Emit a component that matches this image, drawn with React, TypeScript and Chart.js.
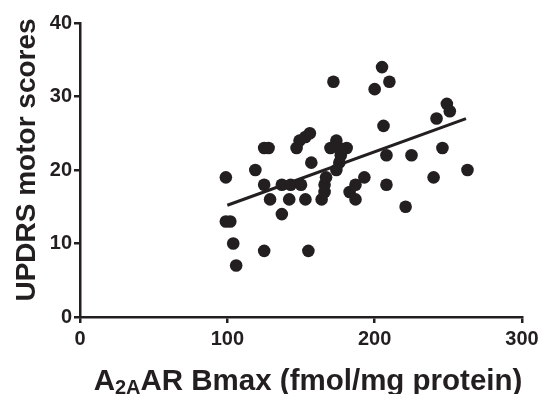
import { useEffect, useRef } from "react";
import { Chart, registerables } from "chart.js";

Chart.register(...registerables);

// A2AAR Bmax (fmol/mg protein)
const bmax = [
  99, 99, 102, 104, 106, 119, 125, 128, 125, 125, 129, 137, 137, 143, 142,
  147, 149, 153, 156, 150, 153, 155, 157, 164, 166, 166, 167, 170, 174, 181,
  176, 177, 176, 174, 172, 183, 187, 193, 187, 200, 205, 210, 206, 208, 208,
  221, 225, 240, 242, 246, 249, 251, 263,
];
// UPDRS motor scores
const updrs = [
  19, 13, 13, 10, 7, 20, 23, 23, 18, 9, 16, 14, 18, 18, 16,
  23, 24, 24.5, 25, 18, 16, 9, 21, 16, 17, 18, 19, 23, 24, 23,
  23, 22, 21, 20, 32, 17, 18, 19, 16, 31, 34, 32, 26, 22, 18,
  15, 22, 19, 27, 23, 29, 28, 20,
];
// regression line end points
const fitBmax = [100, 262];
const fitUpdrs = [15.2, 27];

const xTicks = [0, 100, 200, 300];
const yTicks = [0, 10, 20, 30, 40];

const xTitleA = "A";
const xTitleSub = "2A";
const xTitleRest = "AR Bmax (fmol/mg protein)";
const yTitle = "UPDRS motor scores";

const INK = "#231f20";
const FAMILY = "'Liberation Sans', Arial, Helvetica, sans-serif";

const titlePlugin = {
  id: "customTitles",
  afterDraw(chart: any) {
    const ctx = chart.ctx as CanvasRenderingContext2D;
    ctx.save();
    ctx.fillStyle = INK;
    // y title
    ctx.save();
    ctx.font = `bold 28px ${FAMILY}`;
    ctx.translate(35, 160);
    ctx.rotate(-Math.PI / 2);
    ctx.textAlign = "center";
    ctx.textBaseline = "alphabetic";
    ctx.fillText(yTitle, 0, 0);
    ctx.restore();
    // x title with subscript
    const mainFont = `bold 29.5px ${FAMILY}`;
    const subFont = `bold 20px ${FAMILY}`;
    ctx.textAlign = "left";
    ctx.textBaseline = "alphabetic";
    ctx.font = mainFont;
    const wA = ctx.measureText(xTitleA).width;
    const wRest = ctx.measureText(xTitleRest).width;
    ctx.font = subFont;
    const wSub = ctx.measureText(xTitleSub).width;
    const total = wA + wSub + wRest;
    let x = 308 - total / 2;
    const base = 390;
    ctx.font = mainFont;
    ctx.fillText(xTitleA, x, base);
    x += wA;
    ctx.font = subFont;
    ctx.fillText(xTitleSub, x, base + 4);
    x += wSub;
    ctx.font = mainFont;
    ctx.fillText(xTitleRest, x, base);
    ctx.restore();
  },
};

export default function App() {
  const ref = useRef<HTMLCanvasElement | null>(null);
  useEffect(() => {
    document.body.style.margin = "0";
    if (!ref.current) return;
    const chart = new Chart(ref.current, {
      type: "scatter",
      data: {
        datasets: [
          {
            type: "scatter",
            data: bmax.map((x, i) => ({ x, y: updrs[i] })),
            backgroundColor: INK,
            borderWidth: 0,
            pointRadius: 6.3,
            pointHoverRadius: 6.3,
          },
          {
            type: "line",
            data: fitBmax.map((x, i) => ({ x, y: fitUpdrs[i] })),
            borderColor: INK,
            borderWidth: 3,
            pointRadius: 0,
            showLine: true,
            fill: false,
          } as any,
        ],
      },
      options: {
        animation: false,
        responsive: false,
        layout: { padding: { left: 0, right: 22, top: 23, bottom: 0 } },
        plugins: { legend: { display: false }, tooltip: { enabled: false } },
        scales: {
          x: {
            type: "linear",
            min: 0,
            max: 300,
            afterBuildTicks: (s: any) => {
              s.ticks = xTicks.map((v) => ({ value: v }));
            },
            afterFit: (s: any) => {
              s.height = 77;
            },
            grid: {
              display: true,
              drawOnChartArea: false,
              drawTicks: true,
              tickLength: 6,
              color: INK,
              lineWidth: 2.5,
            },
            border: { display: true, color: INK, width: 2.5 },
            ticks: {
              color: INK,
              padding: 4,
              font: { family: FAMILY, size: 20, weight: "bold" },
            },
          },
          y: {
            type: "linear",
            min: 0,
            max: 40,
            afterBuildTicks: (s: any) => {
              s.ticks = yTicks.map((v) => ({ value: v }));
            },
            afterFit: (s: any) => {
              s.width = 80;
            },
            grid: {
              display: true,
              drawOnChartArea: false,
              drawTicks: true,
              tickLength: 6,
              color: INK,
              lineWidth: 2.5,
            },
            border: { display: true, color: INK, width: 2.5 },
            ticks: {
              color: INK,
              padding: 2,
              font: { family: FAMILY, size: 20, weight: "bold" },
            },
          },
        },
      },
      plugins: [titlePlugin],
    });
    return () => chart.destroy();
  }, []);
  return (
    <div style={{ width: 544, height: 394, background: "#fff" }}>
      <canvas ref={ref} width={544} height={394} style={{ display: "block" }} />
    </div>
  );
}
